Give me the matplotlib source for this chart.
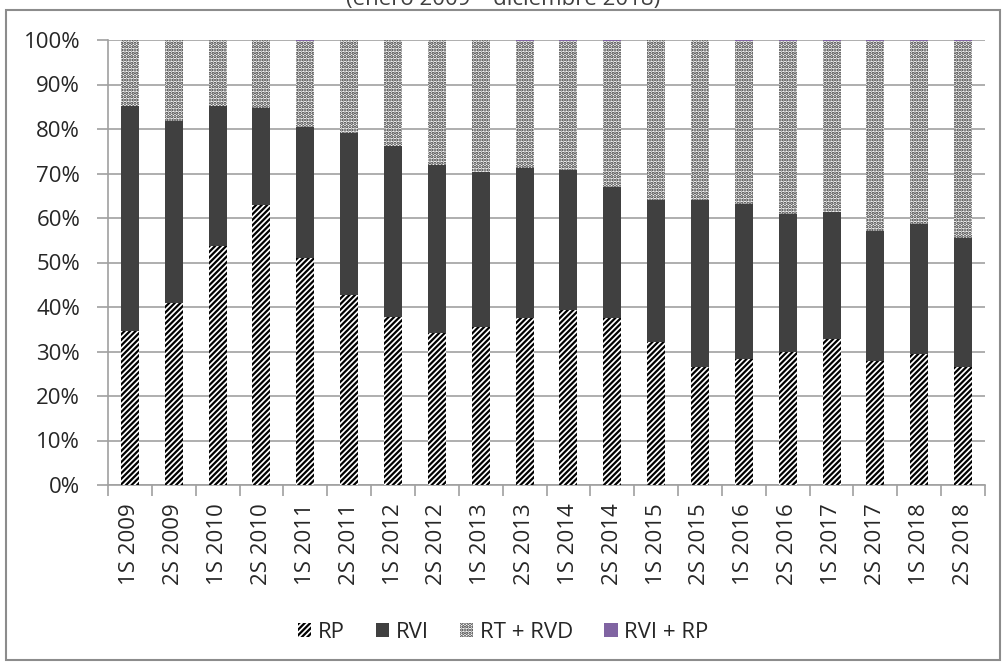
import numpy as np
import matplotlib.pyplot as plt
from matplotlib.patches import Rectangle
from matplotlib.ticker import PercentFormatter

plt.rcParams["font.family"] = ["Open Sans", "DejaVu Sans"]
plt.rcParams["hatch.linewidth"] = 1.6

# ==================================
# 数据
# ==================================

periodos = [
    "1S 2009", "2S 2009", "1S 2010", "2S 2010", "1S 2011",
    "2S 2011", "1S 2012", "2S 2012", "1S 2013", "2S 2013",
    "1S 2014", "2S 2014", "1S 2015", "2S 2015", "1S 2016",
    "2S 2016", "1S 2017", "2S 2017", "1S 2018", "2S 2018",
]

rp = [34.7, 41.0, 53.7, 62.9, 51.1, 42.8, 37.8, 34.1, 35.5, 37.5,
      39.3, 37.5, 32.1, 26.6, 28.4, 29.8, 32.7, 27.8, 29.5, 26.6]

# RP + RVI acumulado
rp_rvi = [85.2, 81.9, 85.2, 84.8, 80.4, 79.0, 76.2, 71.9, 70.4, 71.2,
          70.8, 66.9, 64.1, 64.1, 63.2, 61.0, 61.3, 57.0, 58.7, 55.6]

rvi_rp = [0, 0, 0, 0, 0.3, 0, 0, 0, 0, 0.3,
          0.3, 0.3, 0, 0, 0.3, 0.3, 0.3, 0.3, 0.3, 0.3]

rp = np.array(rp)
rvi = np.array(rp_rvi) - rp
rvi_rp = np.array(rvi_rp)
rt_rvd = 100 - rp - rvi - rvi_rp

# ==================================
# 绘图
# ==================================

fig = plt.figure(figsize=(10.06, 6.66), dpi=100)

# 外框
fig.patches.append(Rectangle(
    (6 / 1006, 6 / 666), 994 / 1006, 650 / 666,
    transform=fig.transFigure, fill=False,
    edgecolor="#8c8c8c", linewidth=1.5
))

fig.text(
    0.5, 1 - 10 / 666,
    "(enero 2009 \u2013 diciembre 2018)",
    ha="center", va="bottom", fontsize=16, color="#404040"
)

ax = fig.add_axes([108 / 1006, 181 / 666, 877 / 1006, 445 / 666])

x = np.arange(len(periodos))
w = 0.41

ax.bar(x, rp, w, facecolor="white", edgecolor="black",
       hatch="//////", linewidth=0, label="RP", zorder=3)
ax.bar(x, rvi, w, bottom=rp, color="#404040",
       linewidth=0, label="RVI", zorder=3)
ax.bar(x, rt_rvd, w, bottom=rp + rvi, facecolor="white",
       edgecolor="#303030", hatch=".....", linewidth=0,
       label="RT + RVD", zorder=3)
ax.bar(x, rvi_rp, w, bottom=rp + rvi + rt_rvd, color="#8064A2",
       linewidth=0, label="RVI + RP", zorder=3)

ax.set_xlim(-0.5, len(periodos) - 0.5)
ax.set_ylim(0, 100)
ax.set_yticks(np.arange(0, 101, 10))
ax.yaxis.set_major_formatter(PercentFormatter(decimals=0))

ax.set_xticks(x)
ax.set_xticklabels(periodos, rotation=90)
ax.set_xticks(np.arange(-0.5, len(periodos)), minor=True)
ax.tick_params(axis="x", which="major", length=0, pad=13, labelsize=16,
               labelcolor="#262626")
ax.tick_params(axis="x", which="minor", length=8, color="#a0a0a0", width=1.2)
ax.tick_params(axis="y", length=8, color="#a0a0a0", width=1.2,
               labelsize=16, pad=12, labelcolor="#262626")

ax.grid(axis="y", color="#a8a8a8", linewidth=1.3, zorder=0)

for s in ["top", "right"]:
    ax.spines[s].set_visible(False)
for s in ["left", "bottom"]:
    ax.spines[s].set_color("#a0a0a0")
    ax.spines[s].set_linewidth(1.2)

fig.legend(
    loc="center", bbox_to_anchor=(503 / 1006, 1 - 632 / 666),
    ncol=4, frameon=False, fontsize=16, labelcolor="#262626",
    handlelength=0.6, handleheight=0.6, handletextpad=0.3,
    columnspacing=1.4
)

plt.savefig("out.png", dpi=100)
